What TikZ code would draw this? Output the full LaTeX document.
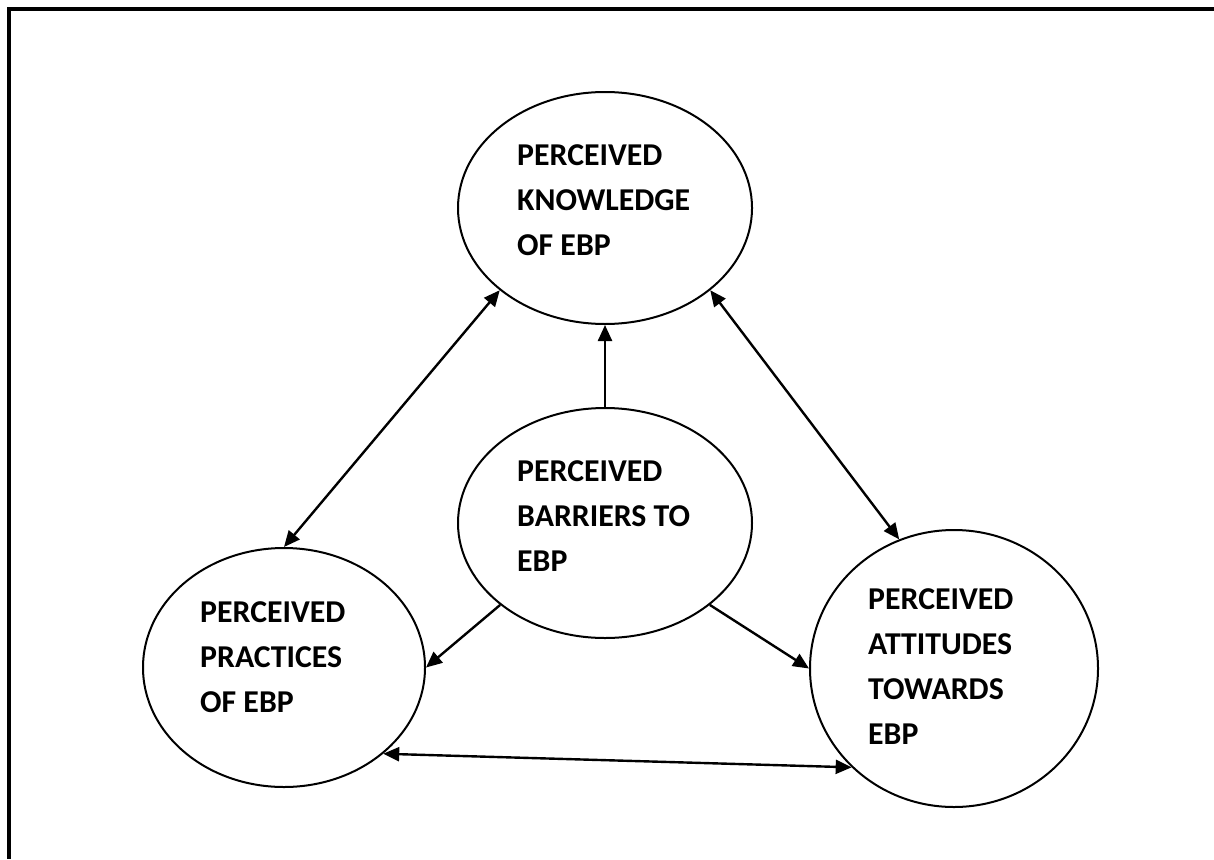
\documentclass[tikz,border=0pt]{standalone}
\usepackage{fontspec}
\setmainfont{Carlito}
\usetikzlibrary{shapes.geometric,arrows.meta}

\tikzset{
  concept/.style={draw, line width=2pt, ellipse, inner sep=0pt,
    minimum width=#1},
  caption/.style={anchor=base west, inner sep=0pt,
    font=\fontsize{31.8}{45}\selectfont\bfseries},
  link/.style={line width=2.4pt, -{Triangle[length=16pt,width=14pt]}},
  both/.style={line width=2.4pt, {Triangle[length=16pt,width=14pt]}-{Triangle[length=16pt,width=14pt]}},
  frame/.style={line width=4pt}
}
\newcommand{\lines}[1]{\begin{tabular}[t]{@{}l@{}}#1\end{tabular}}

\begin{document}
\begin{tikzpicture}[x=1pt, y=-1pt]
  \useasboundingbox (0,0) rectangle (1214,859);

  % open frame: top and left edges only
  \draw[frame] (1214,9.3) -- (9.3,9.3) -- (9.3,859);

  % the four concepts
  \node[concept=294pt, minimum height=232pt] (know) at (605,208) {};
  \node[concept=294pt, minimum height=230pt] (barr) at (605,523) {};
  \node[concept=282pt, minimum height=239pt] (prac) at (284,667.5) {};
  \node[concept=288pt, minimum height=277pt] (atti) at (954,668.5) {};

  \node[caption] (knowtext) at (517,165) {\lines{PERCEIVED\\KNOWLEDGE\\OF EBP}};
  \node[caption] (barrtext) at (517,481) {\lines{PERCEIVED\\BARRIERS TO\\EBP}};
  \node[caption] (practext) at (200,622) {\lines{PERCEIVED\\PRACTICES\\OF EBP}};
  \node[caption] (attitext) at (868,609) {\lines{PERCEIVED\\ATTITUDES\\TOWARDS\\EBP}};

  % relations
  \draw[both] (know.218.7) -- (prac.90);
  \draw[both] (know.322) -- (atti.113.2);
  \draw[both] (prac.319.4) -- (atti.224.1);
  \draw[link] (barr.90) -- (know.270);
  \draw[link] (barr.218) -- (prac.0);
  \draw[link] (barr.322) -- (atti.180);
\end{tikzpicture}
\end{document}
